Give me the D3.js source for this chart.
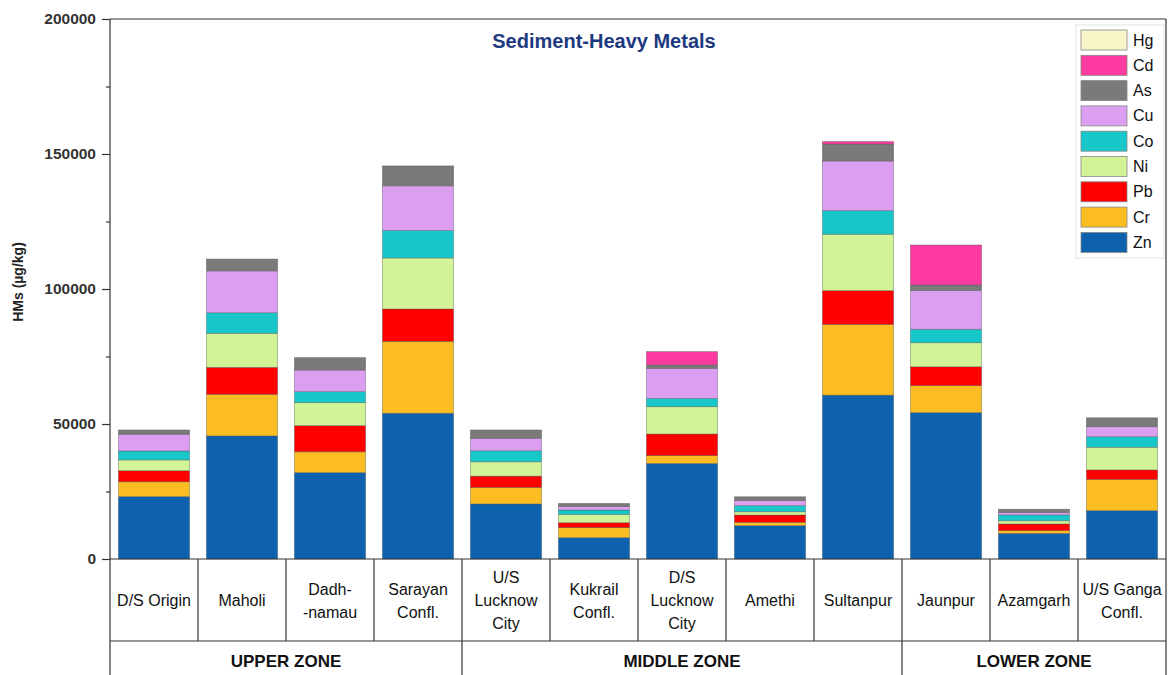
<!DOCTYPE html>
<html><head><meta charset="utf-8">
<script src="https://cdn.jsdelivr.net/npm/d3@7"></script>
<style>
html,body{margin:0;padding:0;background:#fff;}
svg{display:block;}
</style></head>
<body>
<svg id="chart" width="1168" height="675"></svg>
<script>
const categories = [
  ["D/S Origin"], ["Maholi"], ["Dadh-", "-namau"], ["Sarayan", "Confl."],
  ["U/S", "Lucknow", "City"], ["Kukrail", "Confl."], ["D/S", "Lucknow", "City"],
  ["Amethi"], ["Sultanpur"], ["Jaunpur"], ["Azamgarh"], ["U/S Ganga", "Confl."]
];
const metals = ["Zn", "Cr", "Pb", "Ni", "Co", "Cu", "As", "Cd", "Hg"];
const Zn = [23100, 45600, 32000, 54000, 20400, 7900, 35400, 12350, 60700, 54200, 9500, 17900];
const Cr = [5500, 15400, 7700, 26600, 6100, 3700, 2900, 1250, 26200, 10000, 1000, 11600];
const Pb = [4100, 10000, 9700, 12000, 4200, 1850, 8000, 2700, 12500, 7000, 2500, 3500];
const Ni = [4000, 12600, 8500, 18900, 5300, 3050, 10100, 1200, 20900, 8900, 1150, 8400];
const Co = [3300, 7600, 4100, 10200, 4100, 1650, 3100, 2250, 8700, 5000, 2200, 3900];
const Cu = [6200, 15500, 8000, 16500, 4600, 1250, 11100, 1850, 18400, 14300, 850, 3700];
const As = [1600, 4400, 4600, 7400, 3100, 1200, 1300, 1450, 6300, 2100, 1250, 3300];
const Cd = [0, 0, 0, 0, 0, 0, 4900, 0, 900, 14800, 0, 0];
const Hg = [0, 0, 0, 0, 0, 0, 0, 0, 0, 0, 0, 0];
const zones = [
  {name: "UPPER ZONE", from: 0, to: 3},
  {name: "MIDDLE ZONE", from: 4, to: 8},
  {name: "LOWER ZONE", from: 9, to: 11}
];
const yTicks = [0, 50000, 100000, 150000, 200000];
const yMinorTicks = [25000, 75000, 125000, 175000];
const colors = {Zn:"#0e62ad", Cr:"#fbbd22", Pb:"#fe0000", Ni:"#d3f397", Co:"#18c7c9",
  Cu:"#dc9ef0", As:"#7a7a7a", Cd:"#fc3aa0", Hg:"#f8f6c6"};

const seriesData = {Zn, Cr, Pb, Ni, Co, Cu, As, Cd, Hg};
const rows = categories.map((c, i) => {
  const r = {idx: i};
  metals.forEach(m => r[m] = seriesData[m][i]);
  return r;
});

const svg = d3.select("#chart");
const L = 110, R = 1166, T = 19, B = 559, BOT = 675, ROW = 641;
const x = d3.scaleBand().domain(d3.range(categories.length)).range([L, R])
  .paddingInner(0.19).paddingOuter(0.095);
const cell = d3.scaleBand().domain(d3.range(categories.length)).range([L, R]);
const y = d3.scaleLinear().domain([0, 200000]).range([B, T]);

const stack = d3.stack().keys(metals)(rows);

svg.append("g").selectAll("g").data(stack).join("g")
  .attr("fill", d => colors[d.key])
  .selectAll("rect").data(d => d).join("rect")
  .attr("x", d => x(d.data.idx))
  .attr("width", x.bandwidth())
  .attr("y", d => y(d[1]))
  .attr("height", d => Math.max(0, y(d[0]) - y(d[1])))
  .attr("stroke", "#555").attr("stroke-opacity", 0.55).attr("stroke-width", 0.7)
  .filter(d => d[1] - d[0] <= 0).remove();

// frame
const frame = [[L, T, R, T], [R, T, R, BOT], [L, T, L, BOT], [L, B, R, B], [L, ROW, R, ROW]];
frame.forEach(f => svg.append("line").attr("x1", f[0]).attr("y1", f[1]).attr("x2", f[2]).attr("y2", f[3])
  .attr("stroke", "#333").attr("stroke-width", 1.2));

// y axis
const yAxis = d3.axisLeft(y).tickValues(yTicks).tickSize(8).tickPadding(6).tickFormat(d3.format("d"));
const gy = svg.append("g").attr("transform", `translate(${L},0)`).call(yAxis);
gy.select(".domain").remove();
gy.selectAll("line").attr("stroke", "#333").attr("stroke-width", 1.2);
gy.selectAll("text").attr("font-family", "Liberation Sans, Arial, sans-serif")
  .attr("font-size", 15.5).attr("font-weight", "bold").attr("fill", "#333");
const minor = d3.axisLeft(y).tickValues(yMinorTicks).tickSize(4).tickFormat("");
const gm = svg.append("g").attr("transform", `translate(${L},0)`).call(minor);
gm.select(".domain").remove();
gm.selectAll("line").attr("stroke", "#333").attr("stroke-width", 1.2);

svg.append("text").attr("transform", `translate(23,282) rotate(-90)`)
  .attr("text-anchor", "middle").attr("font-family", "Liberation Sans, Arial, sans-serif")
  .attr("font-size", 14).attr("font-weight", "bold").attr("fill", "#222").text("HMs (µg/kg)");

// title
svg.append("text").attr("x", 604).attr("y", 48).attr("text-anchor", "middle")
  .attr("font-family", "Liberation Sans, Arial, sans-serif").attr("font-size", 20)
  .attr("font-weight", "bold").attr("fill", "#1d3a80").text("Sediment-Heavy Metals");

// category table
const fontNarrow = "'Liberation Sans Narrow', 'Arial Narrow', 'Liberation Sans', sans-serif";
categories.forEach((lines, i) => {
  if (i > 0) {
    const isZoneEdge = zones.some(z => z.from === i);
    svg.append("line").attr("x1", cell(i)).attr("x2", cell(i)).attr("y1", B)
      .attr("y2", isZoneEdge ? BOT : ROW).attr("stroke", "#333").attr("stroke-width", 1.2);
  }
  const cx = cell(i) + cell.bandwidth() / 2;
  const lh = 23, cy = 600;
  const t = svg.append("text").attr("text-anchor", "middle").attr("font-family", fontNarrow)
    .attr("font-size", 16).attr("fill", "#111");
  lines.forEach((s, k) => {
    t.append("tspan").attr("x", cx).attr("y", cy + (k - (lines.length - 1) / 2) * lh + 6).text(s);
  });
});
zones.forEach(z => {
  const x0 = cell(z.from), x1 = cell(z.to) + cell.bandwidth();
  svg.append("text").attr("x", (x0 + x1) / 2).attr("y", 667).attr("text-anchor", "middle")
    .attr("font-family", fontNarrow).attr("font-size", 17).attr("font-weight", "bold")
    .attr("fill", "#111").text(z.name);
});

// legend
const legendOrder = metals.slice().reverse();
const lg = svg.append("g");
lg.append("rect").attr("x", 1076).attr("y", 25).attr("width", 88).attr("height", 233)
  .attr("fill", "#fff").attr("stroke", "#e4e4e4").attr("stroke-width", 1);
legendOrder.forEach((m, k) => {
  const yy = 30 + k * 25.3;
  lg.append("rect").attr("x", 1081).attr("y", yy).attr("width", 46).attr("height", 20)
    .attr("fill", colors[m]).attr("stroke", "#888").attr("stroke-width", 0.8);
  lg.append("text").attr("x", 1133).attr("y", yy + 15.5).attr("font-family", fontNarrow)
    .attr("font-size", 16).attr("fill", "#111").text(m);
});
</script>
</body></html>
